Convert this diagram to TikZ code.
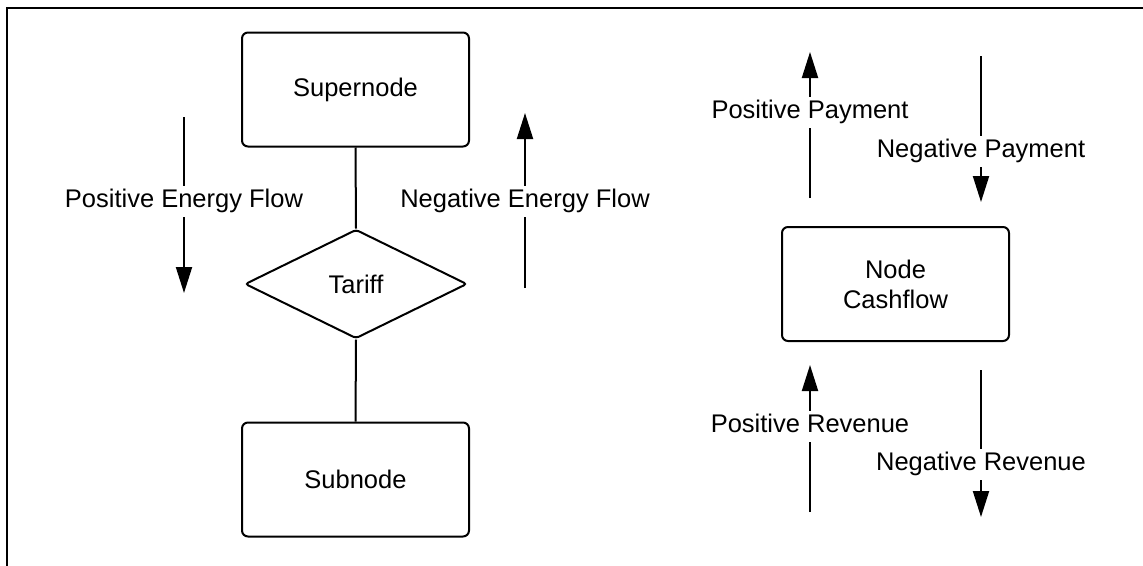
\documentclass[tikz,border=0pt]{standalone}
\usepackage{fontspec}
\setmainfont{Liberation Sans}
\usetikzlibrary{arrows.meta,shapes.geometric}

\tikzset{
  every picture/.style={x=1pt,y=-1pt},
  box/.style={draw,line width=2pt,rounded corners=6pt,minimum width=227pt,
    minimum height=114pt,align=center,inner sep=0pt},
  decision/.style={draw,diamond,line width=2pt,rounded corners=3pt,
    minimum width=222pt,minimum height=109pt,inner sep=0pt},
  link/.style={line width=2pt},
  flow/.style={line width=2pt,-{Triangle[length=26pt,width=16pt]}},
  flowlabel/.style={fill=white,anchor=base,text height=18pt,text depth=7pt,
    inner xsep=1pt,inner ysep=3pt},
}

\begin{document}
\begin{tikzpicture}[font=\fontsize{25.5pt}{30pt}\selectfont]
\useasboundingbox (0,0) rectangle (1143,565);
\fill[white] (0,0) rectangle (1143,565);

% outer frame (runs off the right and bottom edges)
\draw[line width=2pt] (7,8) rectangle (1170,600);

% energy flow chain
\node[box] (super) at (355.5,89.5) {Supernode};
\node[decision] (tariff) at (356,284) {Tariff};
\node[box] (sub) at (355.5,479.5) {Subnode};
\draw[link] (super.south) -- (tariff.north);
\draw[link] (tariff.south) -- (sub.north);

\coordinate (pefA) at (184,117);
\coordinate (pefB) at (184,293);
\draw[flow] (pefA) -- (pefB);
\node[flowlabel] (pef) at (184,207) {Positive Energy Flow};

\coordinate (nefA) at (525,288);
\coordinate (nefB) at (525,113);
\draw[flow] (nefA) -- (nefB);
\node[flowlabel] (nef) at (525,207) {Negative Energy Flow};

% cashflow of a node
\node[box] (cash) at (895.5,284) {Node\\Cashflow};

\coordinate (ppA) at (810,198);
\coordinate (ppB) at (810,52);
\draw[flow] (ppA) -- (ppB);
\node[flowlabel] (pp) at (810,118) {Positive Payment};

\coordinate (npA) at (981,56);
\coordinate (npB) at (981,202);
\draw[flow] (npA) -- (npB);
\node[flowlabel] (np) at (981,157) {Negative Payment};

\coordinate (prA) at (810,512);
\coordinate (prB) at (810,365);
\draw[flow] (prA) -- (prB);
\node[flowlabel] (pr) at (810,432) {Positive Revenue};

\coordinate (nrA) at (981,370);
\coordinate (nrB) at (981,517);
\draw[flow] (nrA) -- (nrB);
\node[flowlabel] (nr) at (981,470) {Negative Revenue};
\end{tikzpicture}
\end{document}
